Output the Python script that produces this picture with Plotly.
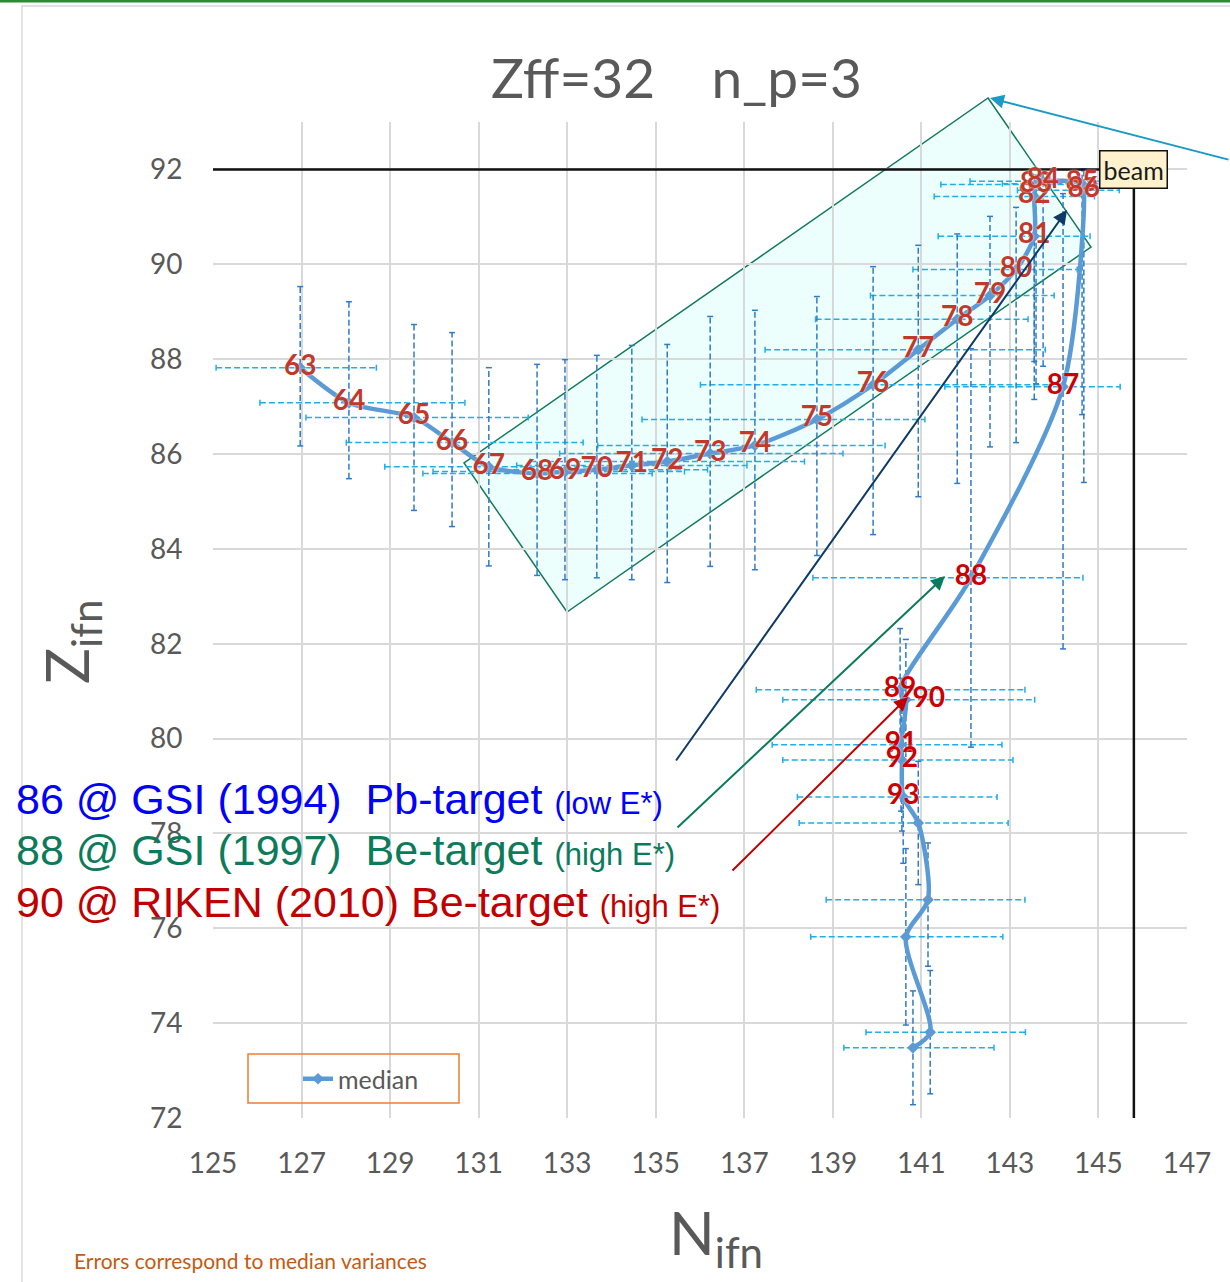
import plotly.graph_objects as go

# ---------------- data ----------------
N_median = [126.97, 128.07, 129.54, 130.40, 131.23, 132.32, 132.95, 133.67, 134.46, 135.26,
            136.23, 137.24, 138.64, 139.91, 140.93, 141.81, 142.55, 143.14, 143.55, 143.55,
            143.59, 143.75, 144.63, 144.67, 144.20, 142.12, 140.52, 140.65, 140.54, 140.56,
            140.59, 140.93, 141.15, 140.65, 141.20, 140.81]
Z_median = [87.82, 87.08, 86.77, 86.24, 85.73, 85.59, 85.63, 85.67, 85.76, 85.84,
            86.01, 86.18, 86.73, 87.46, 88.20, 88.84, 89.34, 89.89, 90.59, 91.43,
            91.68, 91.75, 91.70, 91.56, 87.42, 83.39, 81.03, 80.82, 79.87, 79.55,
            78.77, 78.22, 76.60, 75.82, 73.81, 73.48]
point_labels = ["63", "64", "65", "66", "67", "68", "69", "70", "71", "72",
                "73", "74", "75", "76", "77", "78", "79", "80", "81", "82",
                "83", "84", "85", "86", "87", "88", "89", "90", "91", "92",
                "93", "", "", "", "", ""]

# median variances (asymmetric)
N_err_minus = [1.90, 2.01, 2.44, 2.39, 2.35, 2.58, 2.98, 2.50, 2.60, 3.10,
               3.40, 3.55, 3.95, 3.90, 3.46, 3.20, 2.70, 2.33, 2.17, 2.26,
               2.15, 1.65, 1.80, 1.50, 2.67, 3.57, 3.25, 2.78, 2.91, 2.69,
               2.39, 2.69, 2.30, 2.15, 1.45, 1.56]
N_err_plus = [1.72, 2.62, 2.58, 2.96, 2.30, 2.60, 2.70, 2.50, 2.60, 3.10,
              3.00, 2.94, 2.44, 4.00, 2.87, 1.60, 1.45, 1.38, 1.26, 1.36,
              1.25, 1.30, 0.80, 0.80, 1.29, 2.53, 2.82, 2.91, 2.28, 2.51,
              2.12, 2.03, 2.19, 2.19, 2.15, 1.83]
Z_err_minus = [1.65, 1.60, 1.96, 1.77, 2.09, 2.15, 2.28, 2.28, 2.41, 2.55,
               2.38, 2.62, 2.87, 3.16, 3.10, 3.46, 3.19, 3.65, 3.44, 3.48,
               4.20, 3.90, 4.87, 6.16, 5.53, 3.57, 1.30, 1.40, 1.40, 1.50,
               1.40, 1.30, 1.40, 1.86, 1.30, 1.20]
Z_err_plus = [1.71, 2.13, 1.96, 2.32, 2.09, 2.30, 2.36, 2.41, 2.53, 2.47,
              2.89, 2.85, 2.59, 2.49, 2.20, 1.80, 1.67, 1.31, 0.89, 0.40,
              0.20, 0.15, 0.30, 0.45, 4.07, 4.83, 1.29, 1.27, 1.40, 1.50,
              1.40, 1.30, 1.20, 1.86, 1.30, 1.20]

BEAM_Z = 92
BEAM_N = 145.8

N_RANGE = [125, 147]
Z_RANGE = [72, 93]
N_TICKS = [125, 127, 129, 131, 133, 135, 137, 139, 141, 143, 145, 147]
Z_TICKS = [72, 74, 76, 78, 80, 82, 84, 86, 88, 90, 92]

# ---------------- geometry ----------------
W, H = 1230, 1282
M_L, M_R, M_T, M_B = 213, 43, 122, 164
PLOT_W = W - M_L - M_R
PLOT_H = H - M_T - M_B


def paper_x(px):
    return (px - M_L) / PLOT_W


def paper_y(py):
    return (H - M_B - py) / PLOT_H


# cap half-lengths in data units (about 3 px)
cap_dx = 3 * (N_RANGE[1] - N_RANGE[0]) / PLOT_W
cap_dy = 3 * (Z_RANGE[1] - Z_RANGE[0]) / PLOT_H

hx, hy, vx, vy, hcx, hcy, vcx, vcy = [], [], [], [], [], [], [], []
for n, z, nm, np_, zm, zp in zip(N_median, Z_median, N_err_minus, N_err_plus,
                                 Z_err_minus, Z_err_plus):
    hx += [n - nm, n + np_, None]
    hy += [z, z, None]
    vx += [n, n, None]
    vy += [z - zm, z + zp, None]
    for e in (n - nm, n + np_):
        hcx += [e, e, None]
        hcy += [z - cap_dy, z + cap_dy, None]
    for e in (z - zm, z + zp):
        vcx += [n - cap_dx, n + cap_dx, None]
        vcy += [e, e, None]

H_ERR_COLOR = "#1FAEE6"
V_ERR_COLOR = "#2F7CC6"
LINE_COLOR = "#5B9BD5"
GRID = "#D9D9D9"
TXT = "#595959"

fig = go.Figure()

# dashed error bars
fig.add_trace(go.Scatter(x=hx, y=hy, mode="lines", hoverinfo="skip", showlegend=False,
                         line=dict(color=H_ERR_COLOR, width=1.5, dash="6px,3px")))
fig.add_trace(go.Scatter(x=hcx, y=hcy, mode="lines", hoverinfo="skip", showlegend=False,
                         line=dict(color=H_ERR_COLOR, width=1.5)))
fig.add_trace(go.Scatter(x=vx, y=vy, mode="lines", hoverinfo="skip", showlegend=False,
                         line=dict(color=V_ERR_COLOR, width=1.5, dash="6px,3px")))
fig.add_trace(go.Scatter(x=vcx, y=vcy, mode="lines", hoverinfo="skip", showlegend=False,
                         line=dict(color=V_ERR_COLOR, width=1.5)))

# beam reference lines
fig.add_trace(go.Scatter(x=[N_RANGE[0], BEAM_N, BEAM_N], y=[BEAM_Z, BEAM_Z, Z_RANGE[0]],
                         mode="lines", hoverinfo="skip", showlegend=False,
                         line=dict(color="#111111", width=2.5)))

# median path with labels
label_colors = ["#C0392B" if (t and int(t) <= 86) else "#CC0000" for t in point_labels]
label_pos = ["middle right" if t == "90" else "middle center" for t in point_labels]
fig.add_trace(go.Scatter(
    x=N_median, y=Z_median, name="median",
    mode="lines+markers+text", text=point_labels, textposition=label_pos,
    textfont=dict(family="Lato", size=28, color=label_colors, weight=700,
                  shadow="0px 0px 2px white"),
    line=dict(color=LINE_COLOR, width=4.5, shape="spline", smoothing=0.8),
    marker=dict(symbol="diamond", size=9, color=LINE_COLOR),
    cliponaxis=False,
))

shapes = [
    # chart frame and top rule
    dict(type="rect", xref="paper", yref="paper", x0=paper_x(22), x1=paper_x(1245),
         y0=paper_y(1295), y1=paper_y(6), line=dict(color="#D9D9D9", width=1.5), layer="below"),
    dict(type="line", xref="paper", yref="paper", x0=paper_x(0), x1=paper_x(1230),
         y0=paper_y(1), y1=paper_y(1), line=dict(color="#2A8C35", width=3)),
    # highlighted band
    dict(type="path", xref="paper", yref="paper",
         path="M {} {} L {} {} L {} {} L {} {} Z".format(
             paper_x(988), paper_y(98), paper_x(1091), paper_y(247),
             paper_x(567), paper_y(612), paper_x(464), paper_y(463)),
         fillcolor="rgba(204,255,245,0.35)", line=dict(color="#127A5C", width=1.5),
         layer="below"),
    # legend frame
    dict(type="rect", xref="paper", yref="paper", x0=paper_x(248), x1=paper_x(459),
         y0=paper_y(1103), y1=paper_y(1054), line=dict(color="#ED7D31", width=1.5)),
]


def arrow(tail, head, color, width=2):
    return dict(x=paper_x(head[0]), y=paper_y(head[1]), xref="paper", yref="paper",
                ax=tail[0] - head[0], ay=tail[1] - head[1], axref="pixel", ayref="pixel",
                text="", showarrow=True, arrowhead=2, arrowsize=1.4, arrowwidth=width,
                arrowcolor=color, standoff=0)


def label(text, px, py, font, xanchor="center", **kw):
    return dict(text=text, x=paper_x(px), y=paper_y(py), xref="paper", yref="paper",
                xanchor=xanchor, yanchor="middle", showarrow=False, font=font, **kw)


NB = "\u00a0"
annotations = [
    label("Zff=32" + NB * 4 + "n_p=3", 676, 77, dict(family="Lato", size=55, color=TXT)),
    label("N<sub>ifn</sub>", 716, 1236, dict(family="Lato", size=60, color=TXT)),
    label("Z<sub>ifn</sub>", 70, 642, dict(family="Lato", size=60, color=TXT), textangle=-90),
    label("Errors correspond to median variances", 72, 1260,
          dict(family="Lato", size=21, color="#C55A11"), xanchor="left"),
    dict(text="beam", x=BEAM_N, y=BEAM_Z, xref="x", yref="y", showarrow=False,
         xanchor="center", yanchor="middle",
         bgcolor="#FFF2CC", bordercolor="#111111", borderwidth=1.5, borderpad=3,
         font=dict(family="Lato", size=25, color="#1A1A1A")),
    arrow((1232, 160), (990, 98), "#1A9AC4"),
    arrow((675, 762), (1067, 210), "#0D3A66"),
    arrow((676, 829), (945, 576), "#0B7B5C"),
    arrow((731, 872), (908, 697), "#C00000"),
]

block = [
    ("86 @ GSI (1994)" + NB * 2 + "Pb-target ", "(low E*)", "#0000FF", 799),
    ("88 @ GSI (1997)" + NB * 2 + "Be-target ", "(high E*)", "#0B7B5C", 850),
    ("90 @ RIKEN (2010) Be-target ", "(high E*)", "#C00000", 902),
]
for big, small, col, py in block:
    annotations.append(label(
        big + '<span style="font-size:31px">' + small + "</span>", 14, py,
        dict(family="Liberation Sans", size=43, color=col), xanchor="left"))

fig.update_layout(
    width=W, height=H,
    margin=dict(l=M_L, r=M_R, t=M_T, b=M_B, autoexpand=False),
    paper_bgcolor="white", plot_bgcolor="white",
    xaxis=dict(range=N_RANGE, tickvals=N_TICKS, showgrid=True, gridcolor=GRID, gridwidth=1.5,
               zeroline=False, showline=False, ticks="outside", ticklen=20,
               tickcolor="rgba(0,0,0,0)", tickfont=dict(family="Lato", size=28, color=TXT)),
    yaxis=dict(range=Z_RANGE, tickvals=Z_TICKS, showgrid=True, gridcolor=GRID, gridwidth=1.5,
               zeroline=False, showline=False, ticks="outside", ticklen=24,
               tickcolor="rgba(0,0,0,0)", tickfont=dict(family="Lato", size=28, color=TXT)),
    showlegend=True,
    legend=dict(x=paper_x(298), y=paper_y(1079), xanchor="left", yanchor="middle",
                bgcolor="rgba(0,0,0,0)", borderwidth=0,
                font=dict(family="Lato", size=25, color=TXT)),
    shapes=shapes,
    annotations=annotations,
)

fig.write_html("out.html")
